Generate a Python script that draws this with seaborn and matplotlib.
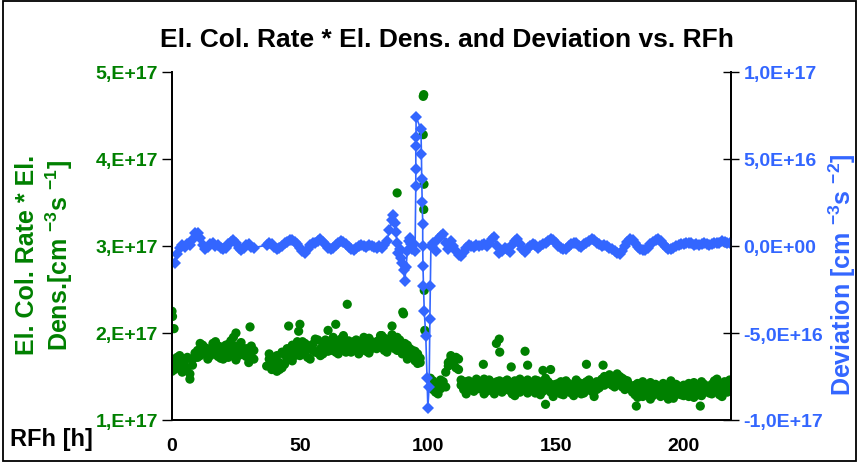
import numpy as np
import pandas as pd
import matplotlib
matplotlib.use("Agg")
import matplotlib.pyplot as plt
import seaborn as sns
from matplotlib.patches import Rectangle

nan = np.nan

# ---------------- data ----------------
# hourly run time grid (h)
hours = np.arange(0, 219)

# El. Col. Rate * El. Dens. in units of 1E17 cm^-3 s^-1, two samples per hour
green_a = [
    1.65, 1.58, 1.72, 1.62, 1.55, 1.68, 1.60, 1.47, 1.63, 1.72,
    1.80, 1.74, 1.86, 1.78, 1.70, 1.82, 1.88, 1.76, 1.73, 1.84,
    1.79, 1.86, 1.72, 1.91, 1.77, 1.69, 1.84, 1.89, 1.75, 1.82,
    1.78, 1.85, 1.70, nan, nan, nan, nan, 1.62, 1.70, 1.58,
    1.72, 1.56, 1.66, 1.60, 1.75, 1.70, 1.80, 1.86, 1.74, 1.90,
    1.82, 1.76, 1.88, 1.72, 1.85, 1.80, 1.78, 1.92, 1.74, 1.86,
    1.84, 1.90, 1.80, 1.95, 1.78, 1.88, 1.82, 1.97, 1.86, 1.80,
    1.86, 1.80, 1.92, 1.76, 1.88, 1.84, 1.79, 1.94, 1.82, 1.87,
    1.90, 1.84, 1.97, 1.80, 1.88, 1.93, 1.86, 1.82, 1.95, 1.86,
    1.84, 1.78, 1.86, 1.72, 1.80, 1.68, 1.76, 1.66, nan, nan,
    nan, 1.38, 1.45, 1.32, 1.40, 1.36, 1.44, 1.38, 1.62, 1.70,
    1.64, 1.72, 1.58, 1.40, 1.35, 1.44, 1.38, 1.42, 1.33, 1.40,
    1.36, 1.44, 1.30, 1.40, 1.46, 1.34, 1.41, 1.37, 1.45, 1.32,
    1.38, 1.46, 1.34, 1.42, 1.28, 1.40, 1.47, 1.36, 1.43, 1.31,
    1.40, 1.34, 1.46, 1.38, 1.29, 1.42, 1.36, 1.44, 1.32, 1.40,
    1.35, 1.42, 1.30, 1.38, 1.45, 1.33, 1.40, 1.28, 1.37, 1.43,
    1.38, 1.31, 1.44, 1.36, 1.40, 1.27, 1.35, 1.42, 1.47, 1.40,
    1.45, 1.52, 1.40, 1.48, 1.43, 1.50, 1.38, 1.46, 1.41, 1.36,
    1.32, 1.40, 1.26, 1.36, 1.44, 1.30, 1.38, 1.24, 1.35, 1.41,
    1.30, 1.37, 1.42, 1.28, 1.34, 1.45, 1.25, 1.33, 1.39, 1.29,
    1.40, 1.32, 1.27, 1.36, 1.43, 1.30, 1.35, 1.28, 1.41, 1.33,
    1.37, 1.30, 1.45, 1.33, 1.40, 1.27, 1.38, 1.43, 1.40,
]
green_b = [
    1.56, 1.70, 1.63, 1.74, 1.66, 1.58, 1.72, 1.53, 1.70, 1.77,
    1.72, 1.88, 1.77, 1.83, 1.79, 1.74, 1.80, 1.90, 1.85, 1.71,
    1.70, 1.77, 1.87, 1.81, 1.95, 1.85, 1.74, 1.78, 1.80, 1.73,
    1.66, 1.73, 1.80, nan, nan, nan, nan, nan, 1.76, 1.64,
    1.62, 1.74, 1.58, 1.78, 1.64, 1.82, 1.76, 1.68, 1.84, 1.79,
    1.74, 1.90, 1.79, 1.84, 1.70, 1.87, 1.93, 1.77, 1.82, 1.76,
    1.92, 1.79, 1.87, 1.83, 1.90, 1.76, 1.93, 1.85, 1.78, 1.91,
    1.78, 1.90, 1.83, 1.88, 1.80, 1.95, 1.86, 1.77, 1.90, 1.84,
    1.82, 1.92, 1.86, 1.94, 1.78, 1.85, 1.98, 1.90, 1.80, 1.92,
    1.76, 1.88, 1.70, 1.82, 1.74, 1.79, 1.65, 1.71, nan, nan,
    nan, 1.48, 1.35, 1.42, 1.30, 1.46, 1.39, 1.55, 1.66, 1.74,
    1.68, 1.60, 1.70, 1.46, 1.38, 1.30, 1.45, 1.36, 1.41, 1.47,
    1.42, 1.38, 1.47, 1.33, 1.39, 1.43, 1.30, 1.44, 1.36, 1.40,
    1.44, 1.35, 1.41, 1.30, 1.45, 1.37, 1.32, 1.42, 1.38, 1.46,
    1.36, 1.43, 1.31, 1.45, 1.40, 1.33, 1.48, 1.35, 1.41, 1.27,
    1.41, 1.33, 1.44, 1.29, 1.36, 1.42, 1.31, 1.39, 1.46, 1.34,
    1.30, 1.42, 1.35, 1.46, 1.33, 1.39, 1.44, 1.37, 1.41, 1.50,
    1.49, 1.42, 1.47, 1.38, 1.53, 1.44, 1.48, 1.35, 1.45, 1.40,
    1.38, 1.29, 1.42, 1.33, 1.27, 1.39, 1.31, 1.43, 1.28, 1.36,
    1.36, 1.27, 1.33, 1.40, 1.24, 1.31, 1.38, 1.41, 1.30, 1.35,
    1.28, 1.37, 1.42, 1.31, 1.26, 1.39, 1.29, 1.44, 1.34, 1.38,
    1.31, 1.41, 1.35, 1.47, 1.29, 1.36, 1.44, 1.32, 1.46,
]
# isolated readings (outliers and the event near 98 h)
green_extra_t = [0.0, 0.2, 0.8, 25.0, 30.5, 45.6, 49.5, 50.0, 61.0, 64.0, 68.5,
                 81.5, 86.0, 88.0, 90.2, 90.5, 98.2, 98.4, 98.2, 98.5, 98.4,
                 98.6, 98.8, 121.7, 126.8, 127.9, 128.1, 132.6, 138.0, 139.0,
                 148.0, 145.0, 162.0, 168.5, 181.5, 206.5, 146.0]
green_extra_v = [2.25, 2.19, 2.05, 2.00, 2.07, 2.08, 2.02, 2.10, 2.03, 2.10, 2.33,
                 1.97, 2.08, 3.61, 2.24, 2.22, 4.72, 4.74, 4.28, 3.71, 3.42,
                 2.49, 2.03, 1.64, 1.88, 1.93, 1.78, 1.61, 1.79, 1.63,
                 1.58, 1.57, 1.64, 1.63, 1.16, 1.16, 1.18]

# Deviation in units of 1E16 cm^-3 s^-2
dev_before = [  # hours 0..85
    nan, -1.00, -0.45, -0.10, 0.05, -0.05, 0.10, 0.05, 0.35, 0.75,
    0.75, 0.45, 0.05, -0.15, -0.05, 0.10, 0.15, 0.00, 0.05, -0.10,
    -0.20, -0.10, 0.10, 0.25, 0.35, 0.15, -0.10, -0.25, -0.10, 0.05,
    0.10, -0.05, -0.10, nan, nan, nan, nan, 0.05, 0.15, 0.10,
    -0.05, -0.15, -0.10, 0.00, 0.15, 0.25, 0.35, 0.35, 0.25, 0.10,
    -0.10, -0.30, -0.40, -0.20, 0.05, 0.15, 0.20, 0.30, 0.40, 0.25,
    0.05, -0.10, -0.20, -0.10, 0.05, 0.20, 0.30, 0.25, 0.10, -0.05,
    -0.20, -0.25, -0.10, 0.00, 0.05, 0.00, -0.05, 0.05, 0.00, -0.05,
    -0.10, 0.00, -0.10, 0.05, 0.30, 0.90,
]
dev_event_t = [86.0, 86.5, 87.0, 87.5, 88.0, 88.5, 89.0, 89.5, 90.0, 90.5,
               91.0, 91.5, 92.0, 92.5, 93.0, 93.5, 94.0, 94.5, 95.0, 95.3,
               95.3, 95.3, 95.4, 95.4, 97.3, 97.5, 97.6, 97.8, 98.0, 98.0,
               98.1, 98.3, 98.6, 99.2, 99.7, 100.0, 100.5, 100.8, 101.0, 101.2]
dev_event_v = [1.50, 1.80, 1.30, 0.80, 0.20, -0.40, -0.20, -0.70, -1.00, -1.40,
               -2.00, -1.20, -0.30, 0.30, 0.45, 0.10, -0.20, 0.10, -0.30, 3.47,
               4.43, 5.76, 6.26, 7.41, 6.72, 5.29, 3.85, 2.53, 1.26, 0.00,
               -1.15, -2.30, -3.73, -5.20, -7.60, -9.30, -8.10, -4.20, -2.30, 0.00]
dev_after = [  # hours 102..218
    0.20, -0.30, 0.40, 0.60, 0.70, 0.20, -0.20, 0.30,
    0.00, -0.30, -0.50, -0.60, -0.35, -0.10, 0.05, 0.00, -0.05, 0.05,
    0.00, 0.05, 0.10, 0.00, 0.20, 0.40, 0.50, 0.00, -0.40, -0.30,
    -0.10, -0.20, -0.35, 0.05, 0.30, 0.40, 0.10, -0.20, -0.35, -0.10,
    0.00, 0.10, 0.05, -0.10, 0.00, 0.10, 0.20, 0.30, 0.40, 0.35,
    0.20, 0.00, -0.10, -0.20, -0.15, 0.00, 0.10, 0.20, 0.15, 0.00,
    -0.05, 0.10, 0.20, 0.30, 0.40, 0.35, 0.20, 0.10, 0.00, 0.05,
    0.00, -0.10, -0.20, -0.30, -0.40, -0.45, -0.30, 0.00, 0.25, 0.40,
    0.35, 0.15, -0.05, -0.15, -0.25, -0.25, -0.10, 0.10, 0.25, 0.35,
    0.40, 0.30, 0.10, -0.05, -0.15, -0.20, -0.10, 0.00, 0.05, 0.10,
    0.10, 0.15, 0.20, 0.15, 0.05, 0.10, 0.05, 0.10, 0.15, 0.10,
    0.05, 0.10, 0.20, 0.15, 0.20, 0.30, 0.25, 0.20, 0.15,
]

x_ticks = [0, 50, 100, 150, 200]
left_ticks = [1e17, 2e17, 3e17, 4e17, 5e17]
left_ticklabels = ["1,E+17", "2,E+17", "3,E+17", "4,E+17", "5,E+17"]
right_ticks = [-1e17, -5e16, 0, 5e16, 1e17]
right_ticklabels = ["-1,0E+17", "-5,0E+16", "0,0E+00", "5,0E+16", "1,0E+17"]

title = "El. Col. Rate * El. Dens. and Deviation vs. RFh"
left_label = "El. Col. Rate * El.\nDens.[cm $^{-3}$s $^{-1}$]"
right_label = "Deviation [cm $^{-3}$s $^{-2}$]"
x_label = "RFh [h]"

GREEN = "#008000"
BLUE = "#3366FF"

# ---------------- tables ----------------
green_df = pd.concat([
    pd.DataFrame({"t": hours, "v": green_a}),
    pd.DataFrame({"t": hours, "v": green_b}),
    pd.DataFrame({"t": green_extra_t, "v": green_extra_v}),
]).dropna()
green_df["v"] = green_df["v"] * 1e17

dev_df = pd.concat([
    pd.DataFrame({"t": hours[:86], "v": dev_before}),
    pd.DataFrame({"t": dev_event_t, "v": dev_event_v}),
    pd.DataFrame({"t": hours[102:], "v": dev_after}),
]).dropna().reset_index(drop=True)
dev_df["v"] = dev_df["v"] * 1e16

# ---------------- style ----------------
sns.set_style("white")
plt.rcParams["font.family"] = ["Liberation Sans", "DejaVu Sans"]
plt.rcParams["font.weight"] = "bold"
plt.rcParams["mathtext.fontset"] = "custom"
plt.rcParams["mathtext.rm"] = "Liberation Sans:bold"
plt.rcParams["mathtext.it"] = "Liberation Sans:bold"
plt.rcParams["mathtext.bf"] = "Liberation Sans:bold"
plt.rcParams["mathtext.default"] = "rm"

fig = plt.figure(figsize=(8.59, 4.64), dpi=100)
ax = fig.add_axes([172 / 859, 1 - 421 / 464, (731 - 172) / 859, (421 - 73) / 464])
ax2 = ax.twinx()

sns.scatterplot(data=green_df, x="t", y="v", ax=ax, color=GREEN, s=44,
                linewidth=0, edgecolor="none", legend=False)
sns.lineplot(data=dev_df, x="t", y="v", ax=ax2, color=BLUE, estimator=None,
             sort=False, marker="D", markersize=6.2, markeredgewidth=0,
             linewidth=1.2, legend=False)

ax.set_xlim(0, 218.5)
ax.set_ylim(1e17, 5e17)
ax2.set_ylim(-1e17, 1e17)

ax.set_xticks(x_ticks, [str(v) for v in x_ticks])
ax.set_yticks(left_ticks, left_ticklabels)
ax2.set_yticks(right_ticks, right_ticklabels)

ax.set_xlabel("")
ax.set_ylabel("")
ax2.set_ylabel("")

for a in (ax, ax2):
    a.spines["top"].set_visible(False)
    for s in ("left", "right", "bottom"):
        a.spines[s].set_color("black")
        a.spines[s].set_linewidth(1.3)
    a.grid(False)

ax.tick_params(axis="x", direction="out", length=4, width=1, color="black",
               pad=8, labelsize=14, labelcolor="black")
ax.tick_params(axis="y", direction="out", length=7, width=1, color="black",
               pad=3, labelsize=14, labelcolor=GREEN)
ax2.tick_params(axis="y", direction="inout", length=12, width=1, color="black",
                pad=3, labelsize=14, labelcolor=BLUE)
for lab in ax.get_xticklabels() + ax.get_yticklabels() + ax2.get_yticklabels():
    lab.set_fontweight("bold")

fig.text(447 / 859, 1 - 40 / 464, title, ha="center", va="center",
         fontsize=19, fontweight="bold", color="black")
fig.text(45 / 859, 1 - 255 / 464, left_label, ha="center", va="center",
         rotation=90, multialignment="center", fontsize=18,
         fontweight="bold", color=GREEN, linespacing=1.2)
fig.text(842 / 859, 1 - 275 / 464, right_label, ha="center", va="center",
         rotation=90, fontsize=18, fontweight="bold", color=BLUE)
fig.text(10 / 859, 1 - 440 / 464, x_label, ha="left", va="center",
         fontsize=17, fontweight="bold", color="black")

fig.patches.append(Rectangle((0.003, 0.004), 0.993, 0.992, transform=fig.transFigure,
                             fill=False, edgecolor="black", linewidth=1.3))

fig.savefig("out.png", dpi=100)
